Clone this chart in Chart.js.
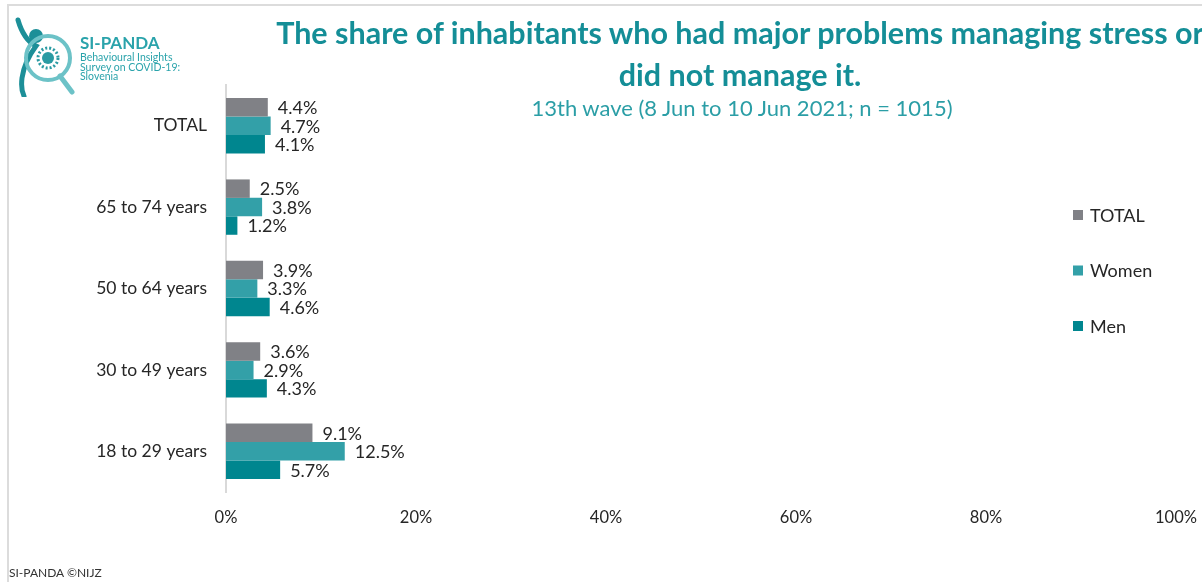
<!DOCTYPE html>
<html>
<head>
<meta charset="utf-8">
<script src="https://cdn.jsdelivr.net/npm/chart.js@4/dist/chart.umd.min.js"></script>
<style>
  html, body { margin: 0; padding: 0; background: #fff; overflow: hidden; }
  body { width: 1202px; height: 582px; position: relative; font-family: Lato, "Open Sans", sans-serif; }
  #frame { position: absolute; left: 7px; top: 4px; width: 1300px; height: 700px; border-top: 2px solid #dcdcdc; border-left: 2px solid #dcdcdc; }
  #wrap { position: absolute; left: 0; top: 0; width: 1202px; height: 582px; }
  .title { position: absolute; left: 0; width: 1480px; text-align: center; white-space: nowrap; color: #148e97; font-weight: bold; font-size: 30.5px; }
  #sub { position: absolute; left: 0; width: 1484px; top: 94px; text-align: center; color: #2b9ea6; font-size: 22px; white-space: nowrap; }
  #foot { position: absolute; left: 9px; top: 565px; font-size: 12px; color: #333; }
  #logo { position: absolute; left: 12px; top: 12px; }
  .lt1 { position: absolute; left: 80px; top: 32px; font-weight: bold; font-size: 17px; color: #2aa3ab; }
  .lt2 { position: absolute; left: 80px; top: 53px; font-size: 10.5px; line-height: 9.5px; color: #2aa3ab; }
</style>
</head>
<body>
<div id="frame"></div>
<div id="wrap"><canvas id="barChart"></canvas></div>
<svg id="logo" width="70" height="85" viewBox="0 0 70 85">
  <path d="M6 8 C10 22 16 30 24 34 C18 42 12 52 10 66 C9 74 10 80 12 84" stroke="#1c8f98" stroke-width="5" fill="none" stroke-linecap="round"/>
  <circle cx="24" cy="24" r="7" fill="#1c8f98"/>
  <circle cx="36" cy="46" r="22" stroke="#6cc2c7" stroke-width="4" fill="none"/>
  <line x1="48" y1="64" x2="60" y2="80" stroke="#6cc2c7" stroke-width="5" stroke-linecap="round"/>
  <circle cx="36" cy="46" r="10" fill="none" stroke="#2a9ba3" stroke-width="3" stroke-dasharray="2 2"/>
  <circle cx="36" cy="46" r="6" fill="#2a9ba3"/>
</svg>
<div class="lt1">SI-PANDA</div>
<div class="lt2">Behavioural Insights<br>Survey on COVID-19:<br>Slovenia</div>
<div class="title" style="top:14px;">The share of inhabitants who had major problems managing stress or</div>
<div class="title" style="top:56px;">did not manage it.</div>
<div id="sub">13th wave (8 Jun to 10 Jun 2021; n = 1015)</div>
<div id="foot">SI-PANDA ©NIJZ</div>
<script>
const categories = ['TOTAL', '65 to 74 years', '50 to 64 years', '30 to 49 years', '18 to 29 years'];
const seriesNames = ['TOTAL', 'Women', 'Men'];
const totalValues = [4.4, 2.5, 3.9, 3.6, 9.1];
const womenValues = [4.7, 3.8, 3.3, 2.9, 12.5];
const menValues = [4.1, 1.2, 4.6, 4.3, 5.7];
const xTicks = [0, 20, 40, 60, 80, 100];
const seriesColors = ['#808186', '#33a0a8', '#00868f'];

const FONT = 'Lato, "Open Sans", sans-serif';

// value labels at the end of each bar
const valueLabels = {
    id: 'valueLabels',
    afterDatasetsDraw(chart) {
        const ctx = chart.ctx;
        ctx.save();
        ctx.font = '18px ' + FONT;
        ctx.fillStyle = '#262626';
        ctx.textBaseline = 'middle';
        ctx.textAlign = 'left';
        chart.data.datasets.forEach((ds, i) => {
            chart.getDatasetMeta(i).data.forEach((bar, j) => {
                ctx.fillText(ds.data[j].toFixed(1) + '%', bar.x + 10, bar.y + 1);
            });
        });
        ctx.restore();
    }
};

// legend drawn inside the plot, right side
const sideLegend = {
    id: 'sideLegend',
    afterDraw(chart) {
        const ctx = chart.ctx;
        ctx.save();
        ctx.font = '18px ' + FONT;
        ctx.textBaseline = 'middle';
        chart.data.datasets.forEach((ds, i) => {
            const y = 215 + i * 55.5;
            ctx.fillStyle = ds.backgroundColor;
            ctx.fillRect(1073, y - 5, 10, 10);
            ctx.fillStyle = '#262626';
            ctx.fillText(ds.label, 1090, y + 1);
        });
        ctx.restore();
    }
};

const barCtx = document.getElementById('barChart').getContext('2d');
const barChart = new Chart(barCtx, {
    type: 'bar',
    data: {
        labels: categories,
        datasets: [
            { label: seriesNames[0], data: totalValues, backgroundColor: seriesColors[0] },
            { label: seriesNames[1], data: womenValues, backgroundColor: seriesColors[1] },
            { label: seriesNames[2], data: menValues, backgroundColor: seriesColors[2] }
        ]
    },
    options: {
        indexAxis: 'y',
        responsive: true,
        maintainAspectRatio: false,
        animation: false,
        datasets: { bar: { categoryPercentage: 0.68, barPercentage: 1 } },
        layout: { padding: { top: 85, right: 26, bottom: 50, left: 0 } },
        plugins: {
            legend: { display: false },
            tooltip: { enabled: false }
        },
        scales: {
            x: {
                min: 0,
                max: 100,
                afterFit(scale) {
                    scale.height = 40;
                    scale.paddingLeft = 0;
                    scale.paddingRight = 0;
                },
                afterBuildTicks(scale) { scale.ticks = xTicks.map(v => ({ value: v })); },
                grid: { display: false, drawTicks: false },
                border: { display: false },
                ticks: {
                    padding: 16,
                    color: '#262626',
                    font: { family: FONT, size: 16.5 },
                    callback: v => v + '%'
                }
            },
            y: {
                afterFit(scale) { scale.width = 226; },
                grid: { display: false, drawTicks: false },
                border: { display: true, color: '#d9d9d9', width: 2 },
                ticks: {
                    padding: 19,
                    color: '#262626',
                    font: { family: FONT, size: 17.5 }
                }
            }
        }
    },
    plugins: [valueLabels, sideLegend]
});
</script>
</body>
</html>
